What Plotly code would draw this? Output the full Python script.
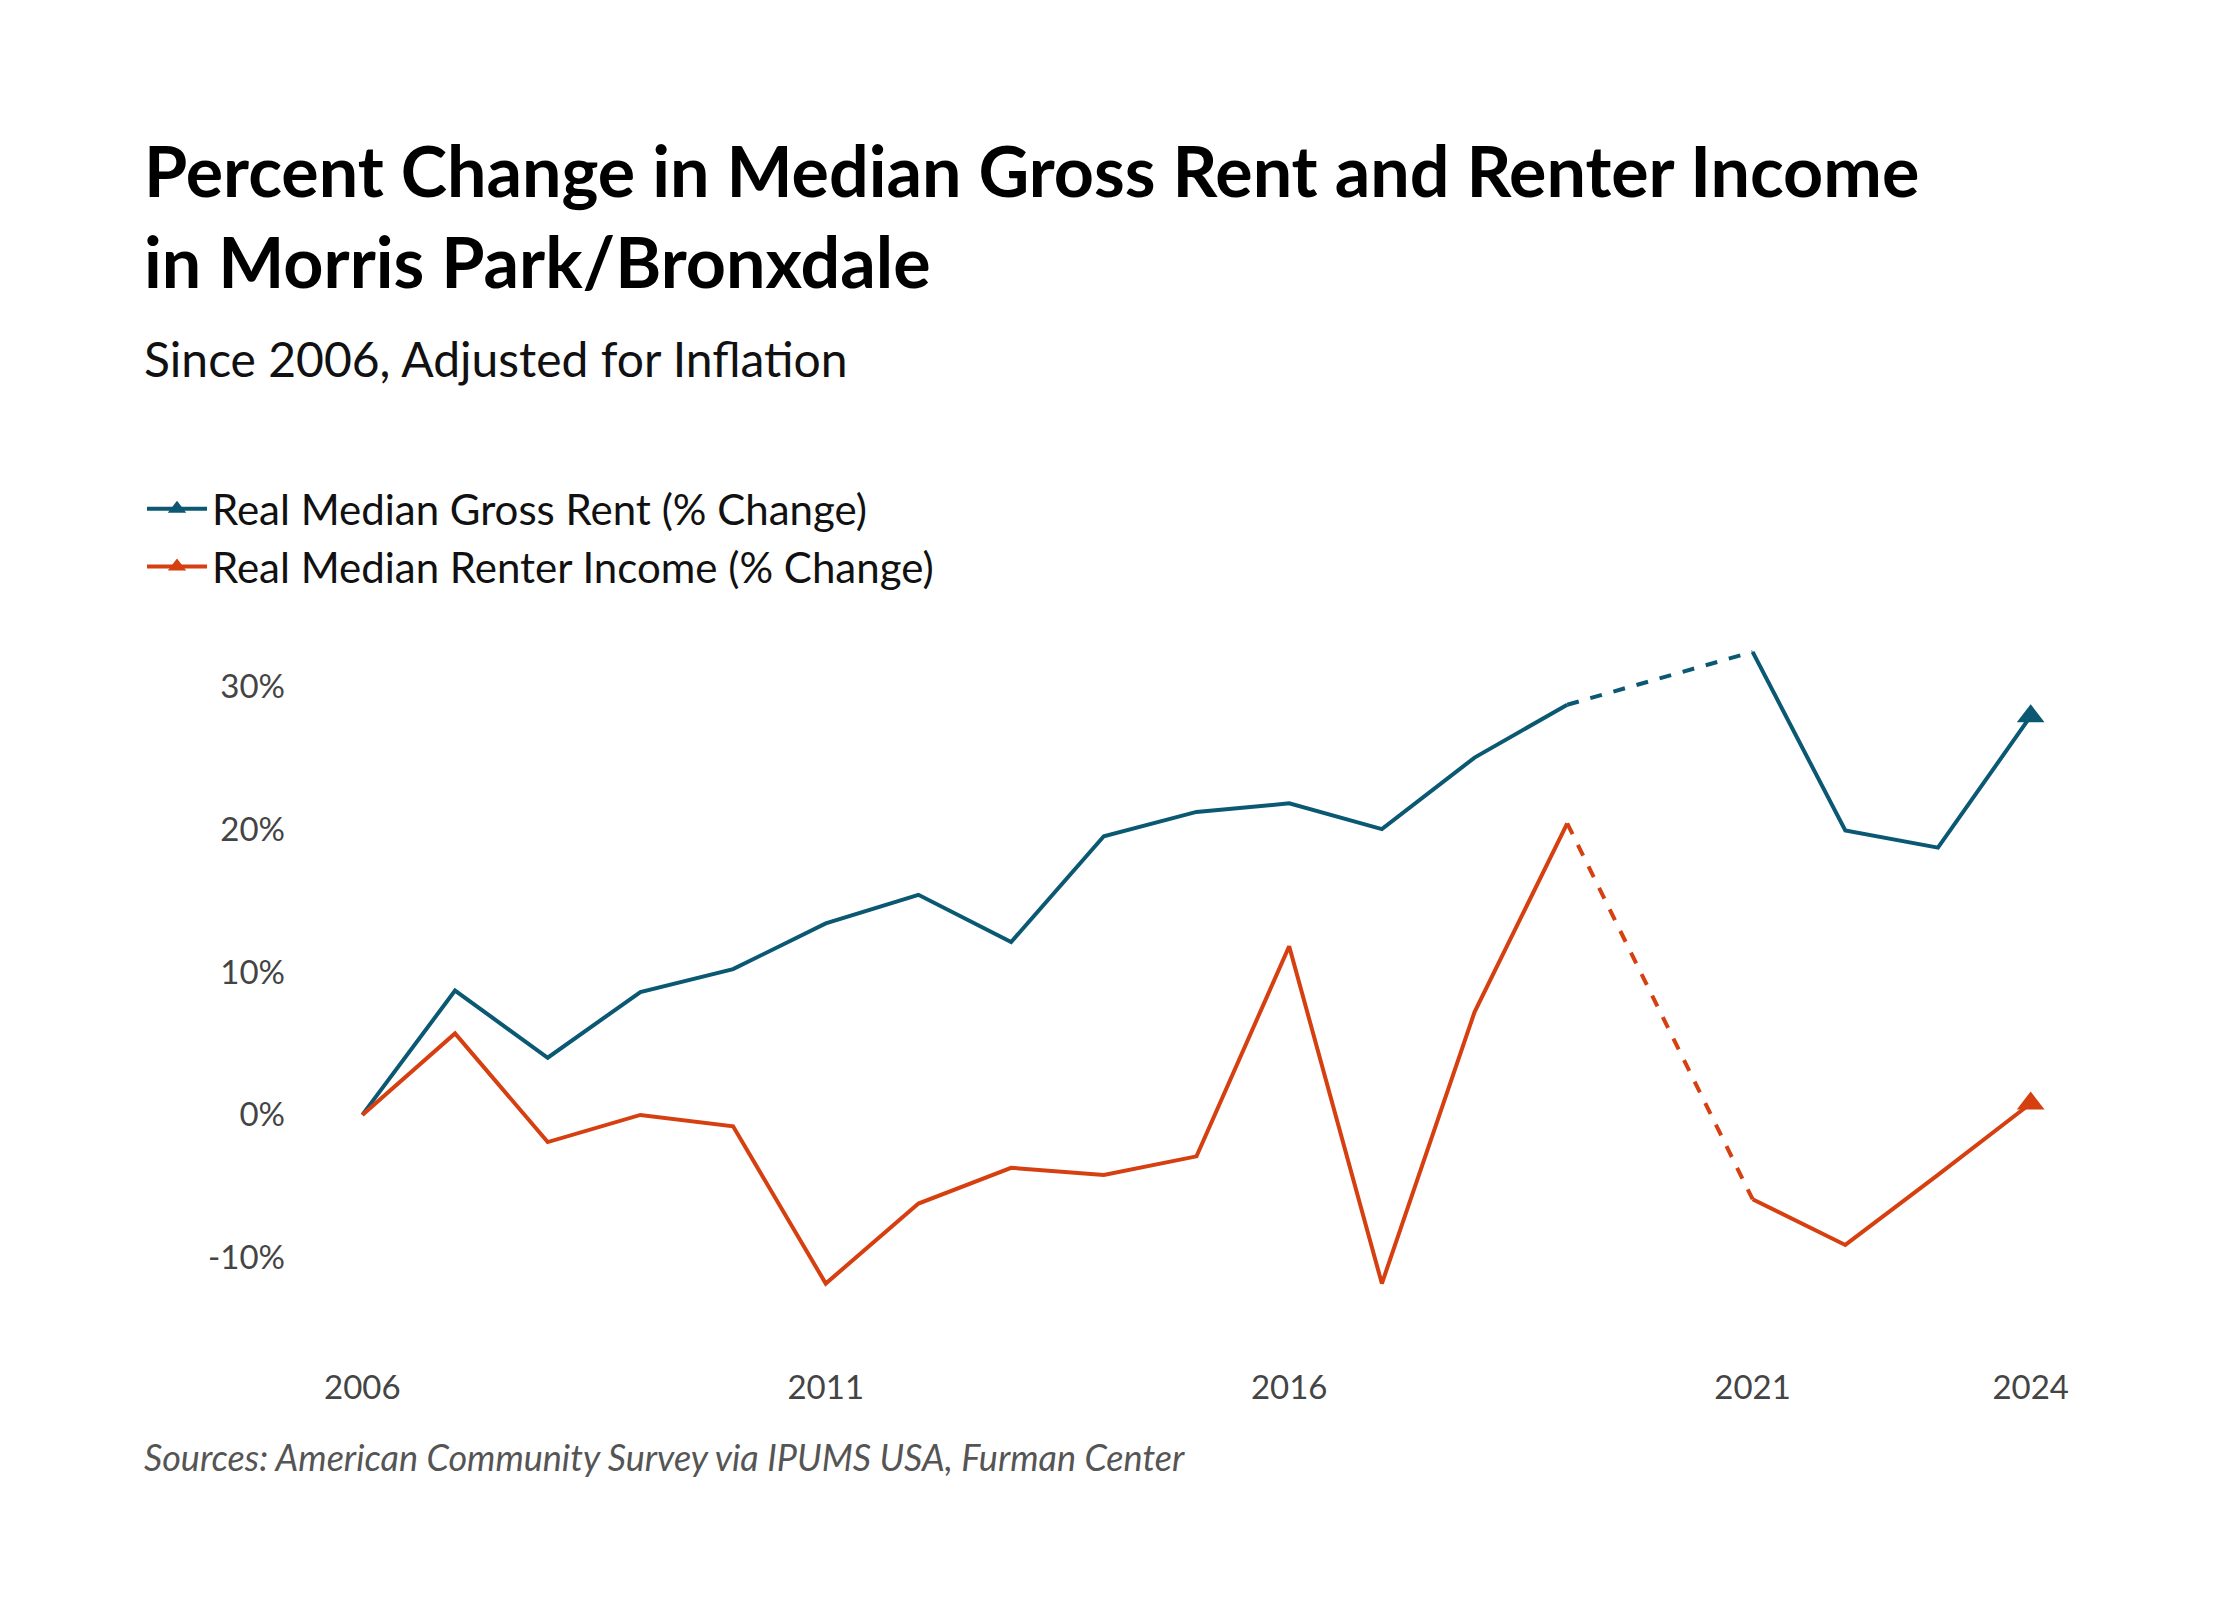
import plotly.graph_objects as go

years = [2006, 2007, 2008, 2009, 2010, 2011, 2012, 2013, 2014, 2015, 2016, 2017, 2018, 2019, 2021, 2022, 2023, 2024]
rent = [0, 8.7, 4.0, 8.6, 10.2, 13.4, 15.4, 12.1, 19.5, 21.2, 21.8, 20.0, 25.0, 28.7, 32.4, 19.9, 18.7, 27.9]
income = [0, 5.7, -1.9, 0, -0.8, -11.8, -6.2, -3.7, -4.2, -2.9, 11.8, -11.8, 7.2, 20.4, -5.9, -9.1, -4.2, 0.8]
tick_years = [2006, 2011, 2016, 2021, 2024]
tick_vals = [-10, 0, 10, 20, 30]
tick_text = ["-10%", "0%", "10%", "20%", "30%"]

RENT_C = "#0b5873"
INC_C = "#d63f10"
FONT = "Lato"

fig = go.Figure()
gap = years.index(2019)

def add_series(vals, color, name):
    for xs, ys, dash in [(years[:gap + 1], vals[:gap + 1], "solid"),
                         (years[gap:gap + 2], vals[gap:gap + 2], "dash"),
                         (years[gap + 1:], vals[gap + 1:], "solid")]:
        fig.add_trace(go.Scatter(x=xs, y=ys, mode="lines", showlegend=False,
                                 line=dict(color=color, width=4, dash=dash), hoverinfo="skip"))
    fig.add_trace(go.Scatter(x=[years[-1]], y=[vals[-1]], mode="markers", showlegend=False,
                             marker=dict(symbol="triangle-up", size=24, color=color)))
    fig.add_trace(go.Scatter(x=[None], y=[None], mode="lines+markers", name=name,
                             line=dict(color=color, width=4),
                             marker=dict(symbol="triangle-up", size=20, color=color)))

add_series(rent, RENT_C, "Real Median Gross Rent (% Change)")
add_series(income, INC_C, "Real Median Renter Income (% Change)")

plot_w = 2240 - 308 - 171
fig.update_layout(
    width=2240, height=1600, plot_bgcolor="white", paper_bgcolor="white",
    margin=dict(l=308, r=171, t=621, b=293),
    font=dict(family=FONT, color="#222"),
    legend=dict(orientation="h", x=(134 - 308) / plot_w, xanchor="left",
                y=1 - 530 / 1600, yref="container", yanchor="middle",
                font=dict(size=42, color="#111"), itemwidth=60,
                entrywidth=874, entrywidthmode="pixels"),
    xaxis=dict(range=[2005.5, 2024.5], tickvals=tick_years, showgrid=False, zeroline=False,
               showline=False, ticks="", tickfont=dict(size=33, color="#444"), ticklabelstandoff=50),
    yaxis=dict(range=[-14, 34], tickvals=tick_vals, ticktext=tick_text, showgrid=False, zeroline=False,
               showline=False, ticks="", tickfont=dict(size=33, color="#444"), ticklabelstandoff=30),
)

anns = [
    dict(text="<b>Percent Change in Median Gross Rent and Renter Income<br>in Morris Park/Bronxdale</b>",
         y=118, size=70, color="#000", style="normal"),
    dict(text="Since 2006, Adjusted for Inflation", y=320, size=48, color="#111", style="normal"),
    dict(text="Sources: American Community Survey via IPUMS USA, Furman Center", y=1425, size=36,
         color="#555", style="italic"),
]
plot_h = 1600 - 621 - 293
for a in anns:
    fig.add_annotation(text=a["text"], x=(134 - 308) / plot_w, xref="paper", xanchor="left",
                       y=(1600 - 293 - a["y"]) / plot_h, yref="paper", yanchor="top", showarrow=False,
                       align="left", font=dict(size=a["size"], color=a["color"], family=FONT,
                                               style=a["style"]))

fig.write_html("out.html")
